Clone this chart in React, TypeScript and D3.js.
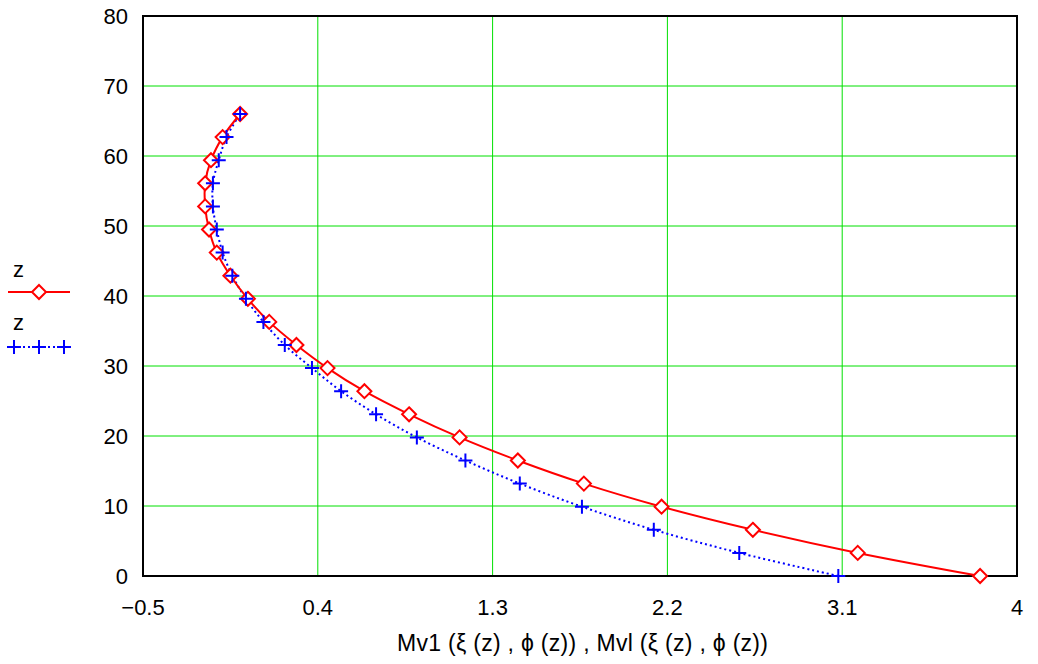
import React, { useEffect, useRef } from "react";
import * as d3 from "d3";

// z values shared by both series
const zValues = [0, 3.3, 6.6, 9.9, 13.2, 16.5, 19.8, 23.1, 26.4, 29.7, 33, 36.3, 39.6, 42.9, 46.2, 49.5, 52.8, 56.1, 59.4, 62.7, 66];
// Mv1(xi(z), phi(z)) - red diamonds
const mv1 = [3.81, 3.18, 2.64, 2.17, 1.77, 1.43, 1.13, 0.87, 0.64, 0.45, 0.29, 0.15, 0.04, -0.05, -0.12, -0.16, -0.18, -0.18, -0.15, -0.09, 0.0];
// Mvl(xi(z), phi(z)) - blue crosses
const mvl = [3.08, 2.57, 2.13, 1.76, 1.44, 1.16, 0.91, 0.70, 0.52, 0.37, 0.23, 0.12, 0.03, -0.04, -0.09, -0.12, -0.14, -0.14, -0.11, -0.07, 0.0];
const xTicks = [-0.5, 0.4, 1.3, 2.2, 3.1, 4];
const yTicks = [0, 10, 20, 30, 40, 50, 60, 70, 80];

const App = () => {
  const chart = useRef<SVGSVGElement>(null);

  useEffect(() => {
    const margin = { top: 16, right: 21, bottom: 88, left: 143 };
    const width = 1038;
    const height = 664;
    const font = "'Liberation Sans', Arial, sans-serif";

    const svg = d3.select(chart.current);
    svg.selectAll("*").remove();

    const x = d3.scaleLinear().domain([-0.5, 4]).range([margin.left, width - margin.right]);
    const y = d3.scaleLinear().domain([0, 80]).range([height - margin.bottom, margin.top]);

    // grid
    const grid = svg.append("g").attr("stroke", "#00e000").attr("stroke-width", 1);
    grid.selectAll(".gx").data(xTicks.slice(1, -1)).join("line")
      .attr("x1", d => x(d)).attr("x2", d => x(d))
      .attr("y1", y(0)).attr("y2", y(80));
    grid.selectAll(".gy").data(yTicks.slice(1, -1)).join("line")
      .attr("x1", x(-0.5)).attr("x2", x(4))
      .attr("y1", d => y(d)).attr("y2", d => y(d));

    // frame
    svg.append("rect")
      .attr("x", x(-0.5)).attr("y", y(80))
      .attr("width", x(4) - x(-0.5)).attr("height", y(0) - y(80))
      .attr("fill", "none").attr("stroke", "#000").attr("stroke-width", 2);

    // tick labels
    svg.append("g").selectAll("text").data(yTicks).join("text")
      .attr("x", x(-0.5) - 15).attr("y", d => y(d) + 8)
      .attr("text-anchor", "end")
      .attr("font-family", font).attr("font-size", 22)
      .text(d => d);
    svg.append("g").selectAll("text").data(xTicks).join("text")
      .attr("x", d => x(d)).attr("y", y(0) + 39)
      .attr("text-anchor", "middle")
      .attr("font-family", font).attr("font-size", 22)
      .text(d => d < 0 ? "\u2212" + Math.abs(d) : String(d));

    svg.append("text")
      .attr("x", 397).attr("y", 651)
      .attr("font-family", font).attr("font-size", 23)
      .attr("textLength", 371).attr("lengthAdjust", "spacing")
      .text("Mv1 (\u03BE (z) , \u03D5 (z)) , Mvl (\u03BE (z) , \u03D5 (z))");

    const red = zValues.map((z, i) => [mv1[i], z] as [number, number]);
    const blue = zValues.map((z, i) => [mvl[i], z] as [number, number]);

    const line = d3.line<[number, number]>()
      .x(d => x(d[0])).y(d => y(d[1]))
      .curve(d3.curveCatmullRom);

    const plot = svg.append("g");

    plot.append("path").datum(blue)
      .attr("d", line).attr("fill", "none")
      .attr("stroke", "#0000ff").attr("stroke-width", 2)
      .attr("stroke-dasharray", "2,3");
    plot.append("path").datum(red)
      .attr("d", line).attr("fill", "none")
      .attr("stroke", "#ff0000").attr("stroke-width", 2);

    const diamond = (cx: number, cy: number) => {
      const s = 7;
      return `M${cx},${cy - s}L${cx + s},${cy}L${cx},${cy + s}L${cx - s},${cy}Z`;
    };
    const plus = (cx: number, cy: number) => {
      const s = 7;
      return `M${cx - s},${cy}H${cx + s}M${cx},${cy - s}V${cy + s}`;
    };

    plot.selectAll(".dm").data(red).join("path")
      .attr("d", d => diamond(x(d[0]), y(d[1])))
      .attr("fill", "#fff").attr("stroke", "#ff0000").attr("stroke-width", 2);
    plot.selectAll(".pl").data(blue).join("path")
      .attr("d", d => plus(x(d[0]), y(d[1])))
      .attr("fill", "none").attr("stroke", "#0000ff").attr("stroke-width", 2);

    // legend
    const legend = svg.append("g").attr("font-family", font).attr("font-size", 22);
    legend.append("text").attr("x", 13).attr("y", 277).text("z");
    legend.append("line").attr("x1", 8).attr("x2", 70).attr("y1", 292).attr("y2", 292)
      .attr("stroke", "#ff0000").attr("stroke-width", 2);
    legend.append("path").attr("d", diamond(39, 292))
      .attr("fill", "#fff").attr("stroke", "#ff0000").attr("stroke-width", 2);
    legend.append("text").attr("x", 13).attr("y", 330).text("z");
    legend.append("line").attr("x1", 8).attr("x2", 70).attr("y1", 347).attr("y2", 347)
      .attr("stroke", "#0000ff").attr("stroke-width", 2).attr("stroke-dasharray", "2,3");
    legend.selectAll(".lp").data([14, 39, 64]).join("path")
      .attr("d", d => plus(d, 347))
      .attr("fill", "none").attr("stroke", "#0000ff").attr("stroke-width", 2);
  }, []);

  return (
    <svg ref={chart} width={1038} height={664}
      style={{ position: "absolute", left: 0, top: 0, background: "#fff" }} />
  );
};

export default App;
